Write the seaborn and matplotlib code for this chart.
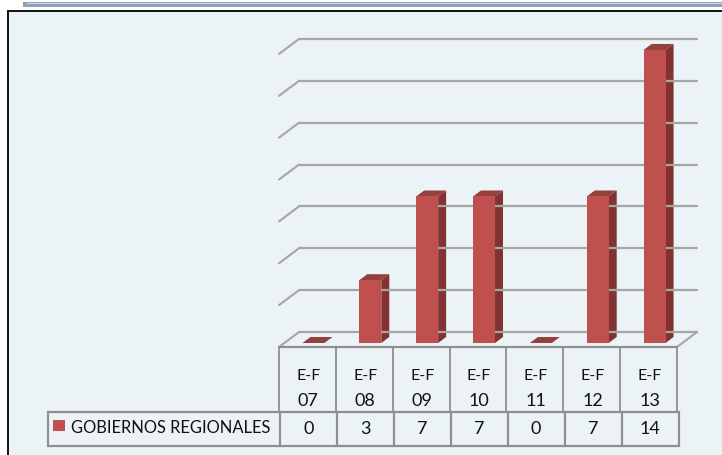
import matplotlib
matplotlib.use("Agg")
import matplotlib.pyplot as plt
from matplotlib.patches import Polygon, Rectangle
from matplotlib.transforms import Affine2D
import seaborn as sns
import pandas as pd

categories = ["E-F 07", "E-F 08", "E-F 09", "E-F 10", "E-F 11", "E-F 12", "E-F 13"]
values = [0, 3, 7, 7, 0, 7, 14]
series_name = "GOBIERNOS REGIONALES"
grid_values = [0, 2, 4, 6, 8, 10, 12, 14]

W, H = 722, 455
BG = "#EBF3F7"
RED = "#C0504D"
RED_SIDE = "#823331"
RED_TOP = "#94403D"
GRID = "#A6A6A6"
TABLE = "#8F8F8F"

sns.set_theme(style="white")
plt.rcParams["font.family"] = ["Lato", "DejaVu Sans"]

fig = plt.figure(figsize=(W / 100, H / 100), dpi=100, facecolor="white")

# pixel-space layer: frame, header band and data table
bg = fig.add_axes([0, 0, 1, 1], zorder=0)
bg.set_xlim(0, W)
bg.set_ylim(H, 0)
bg.axis("off")
bg.add_patch(Rectangle((7.5, 10.5), W, H, fc=BG, ec="#111111", lw=1.4))
bg.add_patch(Rectangle((23, 1.7), W, 5, fc="#8FA2BC", ec="none"))
bg.plot([27, W], [2.6, 2.6], color="#E4E8EE", lw=0.6)

# bar layer: value scale with the bar plane at pixel row 343
PX_PER_UNIT = 20.93
YMAX = 16
ax = fig.add_axes([285 / W, (H - 343) / H, 398 / W, YMAX * PX_PER_UNIT / H], zorder=2)
df = pd.DataFrame({"cat": categories, "val": values})
sns.barplot(data=df, x="cat", y="val", color=RED, saturation=1, width=0.387, linewidth=0, ax=ax, zorder=5)
ax.set_xlim(-0.5, 6.5)
ax.set_ylim(0, YMAX)
ax.patch.set_alpha(0)
ax.axis("off")

back = ax.transData + Affine2D().translate(14, 11)
front = ax.transData + Affine2D().translate(-6, -4)
xl, xr = ax.get_xlim()

# walls and floor
for v in grid_values:
    ax.plot([xl, xr], [v, v], transform=back, color=GRID, lw=1.6, zorder=1, clip_on=False)
    x0, y0 = back.transform((xl, v))
    x1, y1 = front.transform((xl, v))
    bg.plot([x0, x1], [H - y0, H - y1], color=GRID, lw=1.5, zorder=2)
x0, y0 = back.transform((xr, 0))
x1, y1 = front.transform((xr, 0))
bg.plot([x0, x1], [H - y0, H - y1], color=GRID, lw=1.5, zorder=2)
x0, y0 = front.transform((xl, 0))
x1, y1 = front.transform((xr, 0))
bg.plot([x0, x1], [H - y0, H - y1], color=TABLE, lw=1.6, zorder=2)

# 3-D faces of each bar
DX, DY = 8, 6
for p in list(ax.patches):
    x, w, h = p.get_x(), p.get_width(), p.get_height()
    (px0, py0) = ax.transData.transform((x, 0))
    (px1, py1) = ax.transData.transform((x + w, h))
    to_bg = lambda a, b: (a, H - b)
    if h > 0:
        bg_side = [to_bg(px1, py0), to_bg(px1 + DX, py0 + DY), to_bg(px1 + DX, py1 + DY), to_bg(px1, py1)]
        bg.add_patch(Polygon(bg_side, fc=RED_SIDE, ec="none", zorder=3))
    top = [to_bg(px0, py1), to_bg(px1, py1), to_bg(px1 + DX, py1 + DY), to_bg(px0 + DX, py1 + DY)]
    bg.add_patch(Polygon(top, fc=RED_TOP, ec="none", zorder=3))

# data table
hdr = [279 + (677 - 279) * i / 7 for i in range(8)]
row = [280 + (678.5 - 280) * i / 7 for i in range(8)]
for x in hdr:
    bg.plot([x, x], [347, 411], color=TABLE, lw=1.3, zorder=2)
bg.add_patch(Rectangle((48, 411.5), 678.5 - 48, 34.5, fc="none", ec=TABLE, lw=1.6, zorder=2))
for x in row[:-1]:
    bg.plot([x, x], [411.5, 446], color=TABLE, lw=1.6, zorder=2)

for i, (c, v) in enumerate(zip(categories, values)):
    a, b = c.split(" ")
    cx = (hdr[i] + hdr[i + 1]) / 2
    bg.text(cx + 1, 375.5, a, ha="center", va="center", fontsize=11.5, color="#111111")
    bg.text(cx + 1, 400.5, b, ha="center", va="center", fontsize=13, color="#111111")
    bg.text((row[i] + row[i + 1]) / 2, 429.5, str(v), ha="center", va="center", fontsize=13, color="#111111")

bg.add_patch(Rectangle((53, 420), 12, 11, fc=RED, ec="none", zorder=3))
bg.text(71, 428, series_name, ha="left", va="center", fontsize=11.9, color="#111111")

fig.savefig("out.png", dpi=100, facecolor="white")
